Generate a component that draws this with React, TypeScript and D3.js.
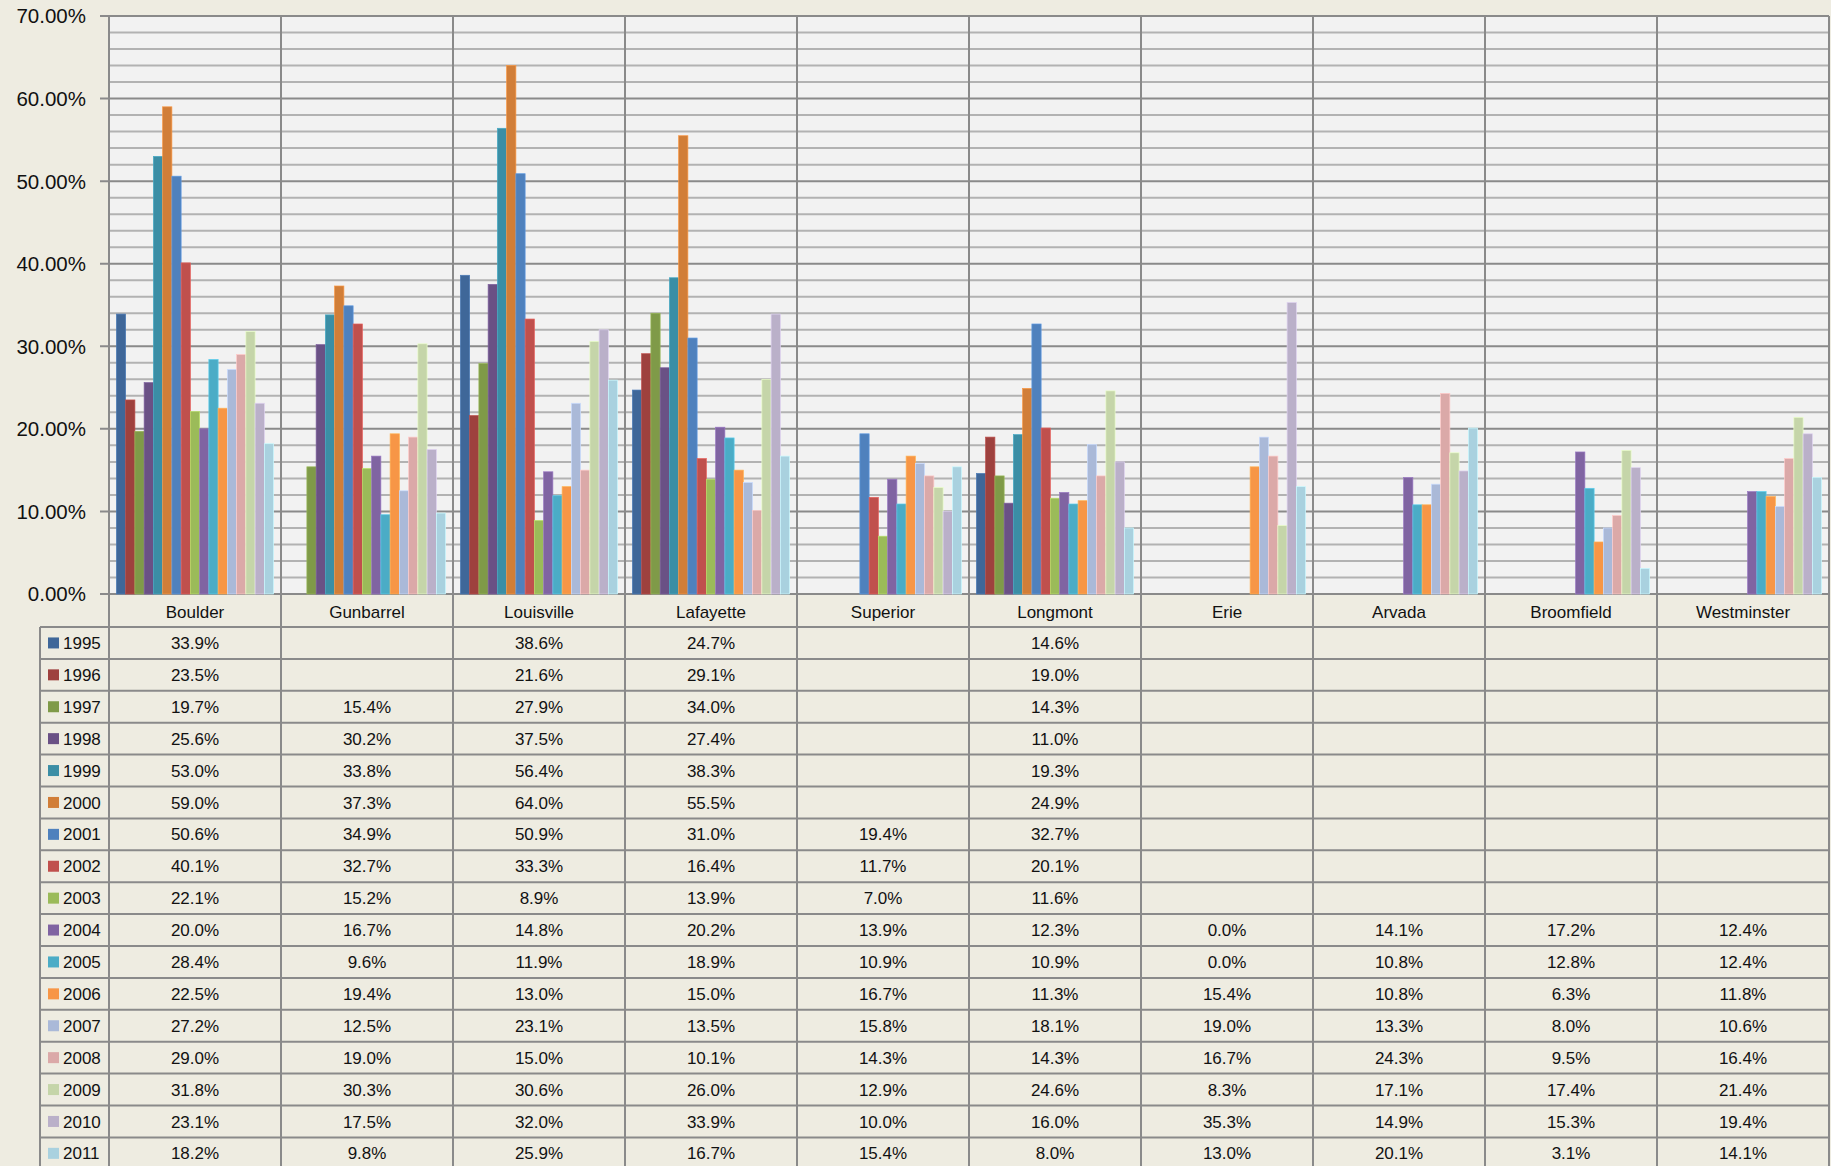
import { useEffect, useRef } from 'react';
import * as d3 from 'd3';

const categories = ['Boulder', 'Gunbarrel', 'Louisville', 'Lafayette', 'Superior', 'Longmont', 'Erie', 'Arvada', 'Broomfield', 'Westminster'];

const years = ['1995', '1996', '1997', '1998', '1999', '2000', '2001', '2002', '2003', '2004', '2005', '2006', '2007', '2008', '2009', '2010', '2011'];

const colors = ['#3F6799', '#9E413E', '#7F9A48', '#6A5185', '#3B8EA5', '#D17E38', '#4F81BD', '#C0504D', '#9BBB59', '#8064A2', '#4BACC6', '#F79646', '#AAB9D8', '#DBA9A8', '#C5D5A9', '#BAB0C9', '#A9D1DF'];

// one list per year, in the order of the categories (null = no value)
const v1995 = [33.9, null, 38.6, 24.7, null, 14.6, null, null, null, null];
const v1996 = [23.5, null, 21.6, 29.1, null, 19.0, null, null, null, null];
const v1997 = [19.7, 15.4, 27.9, 34.0, null, 14.3, null, null, null, null];
const v1998 = [25.6, 30.2, 37.5, 27.4, null, 11.0, null, null, null, null];
const v1999 = [53.0, 33.8, 56.4, 38.3, null, 19.3, null, null, null, null];
const v2000 = [59.0, 37.3, 64.0, 55.5, null, 24.9, null, null, null, null];
const v2001 = [50.6, 34.9, 50.9, 31.0, 19.4, 32.7, null, null, null, null];
const v2002 = [40.1, 32.7, 33.3, 16.4, 11.7, 20.1, null, null, null, null];
const v2003 = [22.1, 15.2, 8.9, 13.9, 7.0, 11.6, null, null, null, null];
const v2004 = [20.0, 16.7, 14.8, 20.2, 13.9, 12.3, 0.0, 14.1, 17.2, 12.4];
const v2005 = [28.4, 9.6, 11.9, 18.9, 10.9, 10.9, 0.0, 10.8, 12.8, 12.4];
const v2006 = [22.5, 19.4, 13.0, 15.0, 16.7, 11.3, 15.4, 10.8, 6.3, 11.8];
const v2007 = [27.2, 12.5, 23.1, 13.5, 15.8, 18.1, 19.0, 13.3, 8.0, 10.6];
const v2008 = [29.0, 19.0, 15.0, 10.1, 14.3, 14.3, 16.7, 24.3, 9.5, 16.4];
const v2009 = [31.8, 30.3, 30.6, 26.0, 12.9, 24.6, 8.3, 17.1, 17.4, 21.4];
const v2010 = [23.1, 17.5, 32.0, 33.9, 10.0, 16.0, 35.3, 14.9, 15.3, 19.4];
const v2011 = [18.2, 9.8, 25.9, 16.7, 15.4, 8.0, 13.0, 20.1, 3.1, 14.1];

const series = [v1995, v1996, v1997, v1998, v1999, v2000, v2001, v2002, v2003, v2004, v2005, v2006, v2007, v2008, v2009, v2010, v2011];

const yTicks = [0, 10, 20, 30, 40, 50, 60, 70];

const W = 1831;
const H = 1166;
const FONT = '"Liberation Sans", Arial, sans-serif';

export default function App() {
  const ref = useRef<SVGSVGElement>(null);

  useEffect(() => {
    const left = 109;
    const right = 1829;
    const top = 16;
    const bottom = 594;
    const labelBottom = 627;
    const rowH = 31.9;
    const tableLeft = 40;

    const svg = d3.select(ref.current).attr('width', W).attr('height', H);
    svg.selectAll('*').remove();

    svg.append('rect').attr('width', W).attr('height', H).attr('fill', '#EEECE1');

    const x = d3.scaleBand().domain(categories).range([left, right]).padding(0);
    const inner = d3.scaleBand().domain(years).range([0, x.bandwidth()]).paddingInner(0).paddingOuter(0.8);
    const y = d3.scaleLinear().domain([0, 70]).range([bottom, top]);

    // plot area
    svg
      .append('rect')
      .attr('x', left)
      .attr('y', top)
      .attr('width', right - left)
      .attr('height', bottom - top)
      .attr('fill', '#F2F2F2');

    const minor = d3.range(0, 70.01, 2).filter(v => v % 10 !== 0);
    svg
      .append('g')
      .selectAll('line')
      .data(minor)
      .join('line')
      .attr('x1', left)
      .attr('x2', right)
      .attr('y1', d => y(d))
      .attr('y2', d => y(d))
      .attr('stroke', '#B2B2B2')
      .attr('stroke-width', 2);

    svg
      .append('g')
      .selectAll('line')
      .data(yTicks)
      .join('line')
      .attr('x1', left - 9)
      .attr('x2', right)
      .attr('y1', d => y(d))
      .attr('y2', d => y(d))
      .attr('stroke', '#8A8A8A')
      .attr('stroke-width', 2);

    svg
      .append('g')
      .selectAll('text')
      .data(yTicks)
      .join('text')
      .attr('x', 86)
      .attr('y', d => y(d))
      .attr('dy', '0.36em')
      .attr('text-anchor', 'end')
      .attr('font-family', FONT)
      .attr('font-size', 20.5)
      .attr('fill', '#111')
      .text(d => `${d.toFixed(2)}%`);

    // bars
    const bars = svg.append('g');
    series.forEach((vals, si) => {
      bars
        .append('g')
        .selectAll('rect')
        .data(vals.map((v, ci) => ({ v, c: categories[ci] })).filter(d => d.v !== null && d.v > 0))
        .join('rect')
        .attr('x', d => (x(d.c) as number) + (inner(years[si]) as number))
        .attr('width', inner.bandwidth())
        .attr('y', d => y(d.v as number))
        .attr('height', d => bottom - y(d.v as number))
        .attr('fill', colors[si])
        .attr('stroke', d3.color(colors[si])!.brighter(0.5).formatHex())
        .attr('stroke-width', 0.7);
    });

    // table
    const rowsBottom = labelBottom + years.length * rowH;
    const grid = svg.append('g').attr('stroke', '#8A8A8A').attr('stroke-width', 2);

    // vertical separators through the plot, label row and table
    grid
      .selectAll('line.v')
      .data(d3.range(categories.length + 1))
      .join('line')
      .attr('class', 'v')
      .attr('x1', i => (i < categories.length ? (x(categories[i]) as number) : right))
      .attr('x2', i => (i < categories.length ? (x(categories[i]) as number) : right))
      .attr('y1', top)
      .attr('y2', rowsBottom);

    grid
      .append('line')
      .attr('x1', tableLeft)
      .attr('x2', tableLeft)
      .attr('y1', labelBottom)
      .attr('y2', rowsBottom);

    grid.append('line').attr('x1', left).attr('x2', right).attr('y1', top).attr('y2', top);

    grid
      .selectAll('line.h')
      .data(d3.range(years.length + 1))
      .join('line')
      .attr('class', 'h')
      .attr('x1', tableLeft)
      .attr('x2', right)
      .attr('y1', i => labelBottom + i * rowH)
      .attr('y2', i => labelBottom + i * rowH);

    svg
      .append('g')
      .selectAll('text')
      .data(categories)
      .join('text')
      .attr('x', d => (x(d) as number) + x.bandwidth() / 2)
      .attr('y', (bottom + labelBottom) / 2 + 1)
      .attr('dy', '0.36em')
      .attr('text-anchor', 'middle')
      .attr('font-family', FONT)
      .attr('font-size', 17)
      .attr('fill', '#111')
      .text(d => d);

    const rows = svg
      .append('g')
      .selectAll('g')
      .data(years)
      .join('g')
      .attr('transform', (d, i) => `translate(0,${labelBottom + i * rowH + rowH / 2})`);

    rows
      .append('rect')
      .attr('x', 48)
      .attr('y', -5.5)
      .attr('width', 11)
      .attr('height', 11)
      .attr('fill', (d, i) => colors[i]);

    rows
      .append('text')
      .attr('x', 63)
      .attr('dy', '0.36em')
      .attr('font-family', FONT)
      .attr('font-size', 17)
      .attr('fill', '#111')
      .text(d => d);

    rows.each(function (yr, si) {
      d3.select(this)
        .selectAll('text.val')
        .data(series[si].map((v, ci) => ({ v, c: categories[ci] })).filter(d => d.v !== null))
        .join('text')
        .attr('class', 'val')
        .attr('x', d => (x(d.c) as number) + x.bandwidth() / 2)
        .attr('dy', '0.36em')
        .attr('text-anchor', 'middle')
        .attr('font-family', FONT)
        .attr('font-size', 17)
        .attr('fill', '#111')
        .text(d => `${(d.v as number).toFixed(1)}%`);
    });

    return () => {
      svg.selectAll('*').remove();
    };
  }, []);

  return (
    <div style={{ position: 'fixed', left: 0, top: 0 }}>
      <svg ref={ref} role="img" aria-label="Percentages by city and year" style={{ display: 'block' }} />
    </div>
  );
}
